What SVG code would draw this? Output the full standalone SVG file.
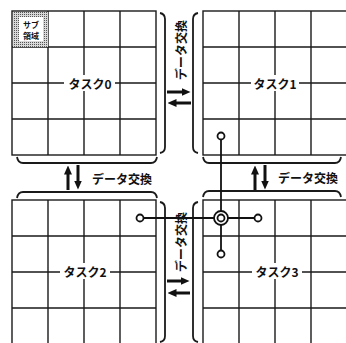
<svg xmlns="http://www.w3.org/2000/svg" width="346" height="343" viewBox="0 0 346 343">
<style>
.grid{fill:none;stroke:#1a1a1a;stroke-width:1.4}
.br{fill:none;stroke:#1a1a1a;stroke-width:1.8}
.lbl{font-family:"Noto Sans CJK JP","Noto Sans",sans-serif;font-size:12px;font-weight:700;fill:#111;text-anchor:middle;dominant-baseline:central}
.gap{fill:#fff;stroke:none}
.shaft{stroke:#111;stroke-width:3;fill:none}
.conn{stroke:#111;stroke-width:1.8;fill:none}
.dot{fill:#fff;stroke:#111;stroke-width:1.8}
</style>
<defs>
<marker id="ah" markerUnits="userSpaceOnUse" viewBox="0 0 9 8" markerWidth="9" markerHeight="8" refX="0.5" refY="4" orient="auto">
<path d="M0,0 L9,4 L0,8 z" fill="#111"/>
</marker>
<pattern id="stip" width="2" height="2" patternUnits="userSpaceOnUse">
<rect width="2" height="2" fill="#d8d8d8"/>
<rect width="1" height="1" fill="#555"/>
</pattern>
</defs>
<rect width="346" height="343" fill="#fff"/>

<g id="task0">
<rect x="12" y="11" width="144" height="144" class="grid"/>
<path class="grid" d="M48,11V155M84,11V155M120,11V155M12,47H156M12,83H156M12,119H156"/>
<rect class="gap" x="64" y="75" width="51" height="16"/>
<text class="lbl" x="90" y="83">タスク0</text>
</g>
<g id="subarea">
<rect x="13" y="12" width="35" height="35" fill="url(#stip)"/>
<rect x="19" y="17" width="24" height="24" fill="#fff"/>
<text x="31" y="24" font-family="'Noto Sans CJK JP',sans-serif" font-size="8" font-weight="700" text-anchor="middle" dominant-baseline="central" fill="#111">サブ</text>
<text x="31" y="35" font-family="'Noto Sans CJK JP',sans-serif" font-size="8" font-weight="700" text-anchor="middle" dominant-baseline="central" fill="#111">領域</text>
</g>
<g id="task1">
<rect x="203" y="11" width="144" height="144" class="grid"/>
<path class="grid" d="M239,11V155M275,11V155M311,11V155M203,47H347M203,83H347M203,119H347"/>
<rect class="gap" x="251" y="75" width="48" height="16"/>
<text class="lbl" x="275" y="83">タスク1</text>
</g>
<g id="task2">
<rect x="12" y="200" width="144" height="144" class="grid"/>
<path class="grid" d="M48,200V344M84,200V344M120,200V344M12,236H156M12,272H156M12,308H156"/>
<rect class="gap" x="60" y="263" width="50" height="16"/>
<text class="lbl" x="85" y="271">タスク2</text>
</g>
<g id="task3">
<rect x="203" y="200" width="144" height="144" class="grid"/>
<path class="grid" d="M239,200V344M275,200V344M311,200V344M203,236H347M203,272H347M203,308H347"/>
<rect class="gap" x="252" y="263" width="50" height="16"/>
<text class="lbl" x="277" y="271">タスク3</text>
</g>

<g id="brackets">
<path class="br" d="M160,13 Q165,14 165,19 L165,147 Q165,152 160,153"/>
<path class="br" d="M198,13 Q193,14 193,19 L193,147 Q193,152 198,153"/>
<path class="br" d="M17,157 Q18,163 23,163 L151,163 Q156,163 157,157"/>
<path class="br" d="M203,157 Q204,163 209,163 L335,163 Q340,163 341,157"/>
<path class="br" d="M17,198 Q18,192 23,192 L151,192 Q156,192 157,198"/>
<path class="br" d="M203,197 Q204,191 209,191 L335,191 Q340,191 341,197"/>
<path class="br" d="M160,202 Q165,203 165,208 L165,336 Q165,341 160,342"/>
<path class="br" d="M198,202 Q193,203 193,208 L193,336 Q193,341 198,342"/>
</g>

<g id="exchange-labels">
<text class="lbl" transform="translate(180,50) rotate(-90)">データ交換</text>
<text class="lbl" transform="translate(180,242) rotate(-90)">データ交換</text>
<text class="lbl" x="122" y="178">データ交換</text>
<text class="lbl" x="308" y="177">データ交換</text>
</g>

<g id="connectors">
<line class="shaft" x1="167" y1="92" x2="182" y2="92" marker-end="url(#ah)"/>
<line class="shaft" x1="191" y1="103" x2="176" y2="103" marker-end="url(#ah)"/>
<line class="shaft" x1="167" y1="281" x2="181" y2="281" marker-end="url(#ah)"/>
<line class="shaft" x1="190" y1="293" x2="176" y2="293" marker-end="url(#ah)"/>
<line class="shaft" x1="68" y1="190" x2="68" y2="174" marker-end="url(#ah)"/>
<line class="shaft" x1="78" y1="165" x2="78" y2="181" marker-end="url(#ah)"/>
<line class="shaft" x1="255" y1="190" x2="255" y2="174" marker-end="url(#ah)"/>
<line class="shaft" x1="265" y1="165" x2="265" y2="181" marker-end="url(#ah)"/>
<line class="conn" x1="221" y1="136" x2="221" y2="254"/>
<line class="conn" x1="140" y1="218" x2="258" y2="218"/>
<circle class="dot" cx="221" cy="136" r="3.5"/>
<circle class="dot" cx="221" cy="254" r="3.5"/>
<circle class="dot" cx="140" cy="218" r="3.5"/>
<circle class="dot" cx="258" cy="218" r="3.5"/>
<circle class="dot" cx="221" cy="218" r="7"/>
<circle class="dot" cx="221" cy="218" r="3.5"/>
</g>
</svg>
